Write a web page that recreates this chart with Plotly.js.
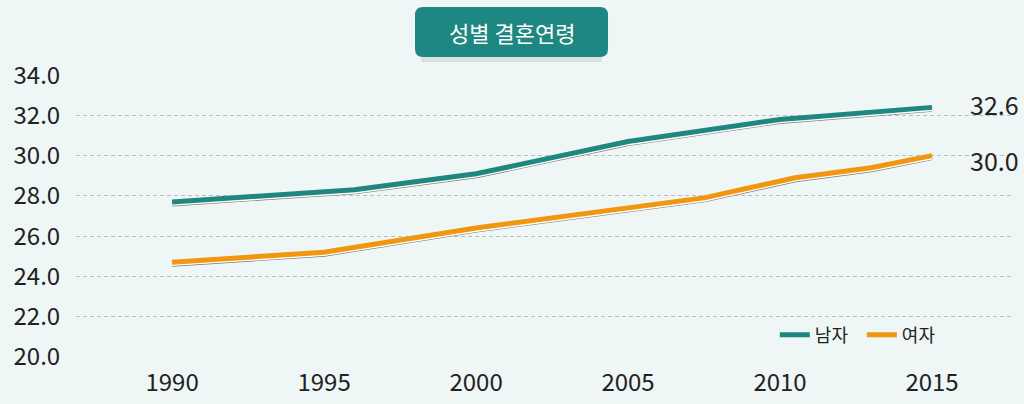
<!DOCTYPE html>
<html>
<head>
<meta charset="utf-8">
<script src="https://cdn.plot.ly/plotly-3.0.1.min.js"></script>
<style>
	html, body { margin: 0; padding: 0; background: #eff6f6; }
	#plot { width: 1024px; height: 404px; }
</style>
</head>
<body>
<div id="plot"></div>
<script>
// values (line vertices)
const maleYears = [1990, 1996, 2000, 2005, 2010, 2015];
const maleAge = [27.7, 28.3, 29.1, 30.7, 31.8, 32.4];
const femaleYears = [1990, 1995, 2000, 2007.5, 2010.5, 2013, 2015];
const femaleAge = [24.7, 25.2, 26.4, 27.9, 28.9, 29.4, 30.0];
const seriesNames = ["남자", "여자"];
const endLabels = ["32.6", "30.0"];
const yTicks = [20, 22, 24, 26, 28, 30, 32, 34];
const xTicks = [1990, 1995, 2000, 2005, 2010, 2015];
const chartTitle = "성별 결혼연령";

const TEAL = "#1e8780";
const ORANGE = "#f0960f";
const FONT = "Noto Sans CJK KR";
const PX_PER_UNIT = 20.14;

// same line pushed down a few pixels, for the shadow and the white edge
function lowered(y, px) {
	return y.map((v) => v - px / PX_PER_UNIT);
}

function layered(x, y, color, name) {
	return [
		{ x: x, y: lowered(y, 2.0), type: "scatter", mode: "lines",
			line: { color: "#7d7474", width: 5 }, showlegend: false, hoverinfo: "skip" },
		{ x: x, y: lowered(y, 1.1), type: "scatter", mode: "lines",
			line: { color: "#ffffff", width: 5.5 }, showlegend: false, hoverinfo: "skip" },
		{ x: x, y: y, type: "scatter", mode: "lines",
			line: { color: color, width: 5 }, name: name },
	];
}

const traces = [
	...layered(maleYears, maleAge, TEAL, seriesNames[0]),
	...layered(femaleYears, femaleAge, ORANGE, seriesNames[1]),
];

const lastMale = maleAge[maleAge.length - 1];
const lastFemale = femaleAge[femaleAge.length - 1];

let layout = {
	width: 1024,
	height: 404,
	margin: { l: 76, r: 12, t: 75, b: 47 },
	paper_bgcolor: "#eff6f6",
	plot_bgcolor: "#eff6f6",
	font: { family: FONT, color: "#222222", size: 24 },
	showlegend: true,
	xaxis: {
		range: [1986.84, 2017.63],
		tickvals: xTicks,
		ticktext: xTicks.map(String),
		showgrid: false,
		zeroline: false,
		showline: false,
		ticks: "outside",
		ticklen: 4,
		tickcolor: "rgba(0,0,0,0)",
		tickfont: { family: FONT, size: 24, color: "#222222" },
	},
	yaxis: {
		range: [19.99, 34.01],
		tickvals: yTicks,
		ticktext: yTicks.map((v) => v.toFixed(1)),
		gridcolor: "#b9bdbd",
		griddash: "4px,3px",
		gridwidth: 1,
		zeroline: false,
		showline: false,
		ticks: "outside",
		ticklen: 10,
		tickcolor: "rgba(0,0,0,0)",
		tickfont: { family: FONT, size: 24, color: "#222222" },
	},
	legend: {
		orientation: "h",
		x: 0.9325,
		xanchor: "right",
		y: 0.078,
		yanchor: "middle",
		bgcolor: "rgba(0,0,0,0)",
		font: { family: FONT, size: 18, color: "#222222" },
		itemwidth: 30,
		entrywidth: 42,
		tracegroupgap: 0,
	},
	shapes: [
		// soft shadow under the title box
		{
			type: "path", xref: "paper", yref: "paper",
			xsizemode: "pixel", ysizemode: "pixel",
			xanchor: 0.4653, yanchor: 1.1525 - 5 / 282,
			path: "M -90,-25 L 90,-25 L 94,25 L -94,25 Z",
			fillcolor: "rgba(120,130,130,0.18)", line: { width: 0 }, layer: "above",
		},
		{
			type: "path", xref: "paper", yref: "paper",
			xsizemode: "pixel", ysizemode: "pixel",
			xanchor: 0.4653, yanchor: 1.1525,
			path: "M -88.5,-25 L 88.5,-25 Q 96.5,-25 96.5,-17 L 96.5,17 Q 96.5,25 88.5,25 " +
				"L -88.5,25 Q -96.5,25 -96.5,17 L -96.5,-17 Q -96.5,-25 -88.5,-25 Z",
			fillcolor: "#1e8782", line: { width: 0 }, layer: "above",
		},
	],
	annotations: [
		{
			xref: "paper", yref: "paper", x: 0.4653, y: 1.1525,
			text: chartTitle, showarrow: false,
			font: { family: FONT, size: 22, color: "#ffffff" },
			xanchor: "center", yanchor: "middle",
		},
		{
			x: 2015, y: lastMale, text: endLabels[0], showarrow: false,
			xanchor: "center", yanchor: "middle", xshift: 62, yshift: 3,
			font: { family: FONT, size: 25, color: "#222222" },
		},
		{
			x: 2015, y: lastFemale, text: endLabels[1], showarrow: false,
			xanchor: "center", yanchor: "middle", xshift: 62, yshift: -4,
			font: { family: FONT, size: 25, color: "#222222" },
		},
	],
};

let config = {
	staticPlot: true,
	displayModeBar: false,
};

Plotly.newPlot("plot", traces, layout, config);
</script>
</body>
</html>
